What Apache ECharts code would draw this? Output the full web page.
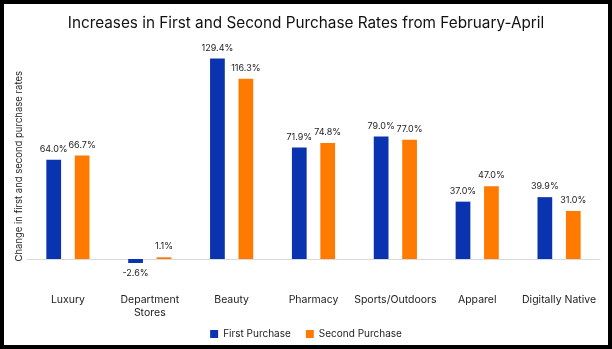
<!DOCTYPE html>
<html>
<head>
<meta charset="utf-8">
<script src="https://cdn.jsdelivr.net/npm/echarts@6/dist/echarts.min.js"></script>
<style>
  html, body { margin: 0; padding: 0; background: #fff; }
  #frame { width: 612px; height: 349px; box-sizing: border-box; border: 4px solid #000; background: #fff; }
  #chart { width: 604px; height: 341px; }
</style>
</head>
<body>
<div id="frame"><div id="chart"></div></div>
<script>
// Retail categories and purchase-rate changes (%)
const categories = ['Luxury', 'Department\nStores', 'Beauty', 'Pharmacy', 'Sports/Outdoors', 'Apparel', 'Digitally Native'];
const firstPurchase = [64.0, -2.6, 129.4, 71.9, 79.0, 37.0, 39.9];
const secondPurchase = [66.7, 1.1, 116.3, 74.8, 77.0, 47.0, 31.0];
const seriesNames = ['First Purchase', 'Second Purchase'];

const FONT = 'Inter, "DejaVu Sans", sans-serif';
const chart = echarts.init(document.getElementById('chart'));

const valueLabel = {
  show: true,
  position: 'outside',
  distance: 6,
  fontFamily: FONT,
  fontSize: 9,
  color: '#222',
  formatter: p => p.value.toFixed(1) + '%'
};

chart.setOption({
  animation: false,
  title: {
    text: 'Increases in First and Second Purchase Rates from February-April',
    left: 'center',
    top: 7,
    textStyle: { fontFamily: FONT, fontSize: 15.3, fontWeight: 'normal', color: '#111' }
  },
  legend: {
    bottom: 1,
    left: 'center',
    itemWidth: 8,
    itemHeight: 8,
    itemGap: 15,
    icon: 'rect',
    textStyle: { fontFamily: FONT, fontSize: 10, color: '#222' },
    data: seriesNames
  },
  grid: { left: 23, right: 8, top: 38, bottom: 70.5, containLabel: false },
  xAxis: {
    type: 'category',
    data: categories,
    axisLine: { onZero: true, lineStyle: { color: '#d9d9d9', width: 1 } },
    axisTick: { show: false },
    axisLabel: { margin: 19, fontFamily: FONT, fontSize: 10.5, color: '#222', lineHeight: 13, interval: 0 }
  },
  yAxis: {
    type: 'value',
    min: -10,
    max: 140,
    name: 'Change in first and second purchase rates',
    nameLocation: 'middle',
    nameGap: 3,
    nameTextStyle: { fontFamily: FONT, fontSize: 9.5, color: '#222', padding: [0, 16, 0, 0] },
    axisLine: { show: false },
    axisTick: { show: false },
    axisLabel: { show: false },
    splitLine: { show: false }
  },
  series: [
    {
      name: seriesNames[0],
      type: 'bar',
      data: firstPurchase,
      barWidth: '18%',
      barGap: '93%',
      itemStyle: { color: '#0a33b0' },
      label: valueLabel
    },
    {
      name: seriesNames[1],
      type: 'bar',
      data: secondPurchase,
      barWidth: '18%',
      itemStyle: { color: '#ff7a00' },
      label: valueLabel
    }
  ]
});
</script>
</body>
</html>
